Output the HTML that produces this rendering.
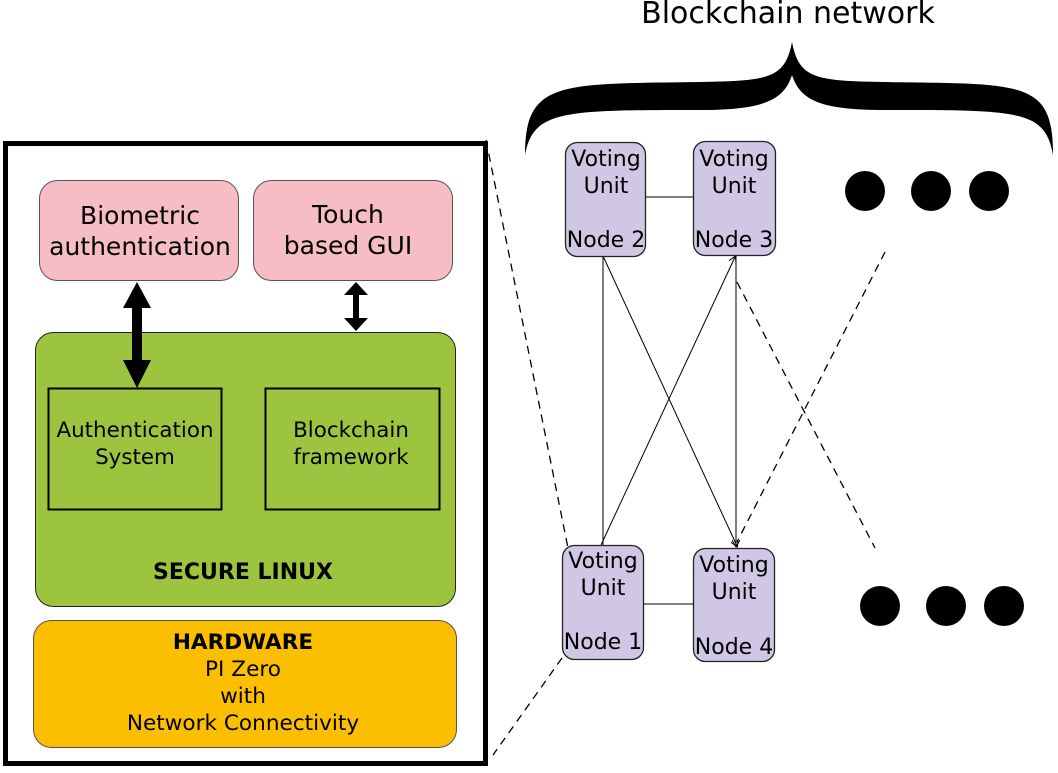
<!DOCTYPE html>
<html><head><style>
body{margin:0;width:1058px;height:768px;background:#fff;overflow:hidden}
svg text{font-family:"DejaVu Sans",sans-serif;fill:#000}
</style></head><body>
<svg width="1058" height="768" viewBox="0 0 1058 768">
<defs>
<marker id="a" markerWidth="8" markerHeight="8" refX="6" refY="4" orient="auto" markerUnits="userSpaceOnUse"><path d="M0,0 L7,4 L0,8" fill="none" stroke="#000" stroke-width="1"/></marker>
</defs>
<text x="788" y="23" font-size="30" text-anchor="middle">Blockchain network</text>
<path d="M525,155 C525,80 560,84 700,82 C770,81 785,78 792,42 C799,78 814,81 884,82 C1024,84 1053,80 1053,155 C1045,110 1020,110 884,110 C820,110 800,100 792,75 C784,100 764,110 700,110 C564,110 533,110 525,155 Z" fill="#000"/>
<rect x="5.5" y="143.5" width="480" height="620" fill="#fff" stroke="#000" stroke-width="5"/>
<rect x="39.5" y="180.5" width="199" height="100" rx="18" fill="#f6bec4" stroke="#555"/>
<rect x="253.5" y="180.5" width="199" height="100" rx="18" fill="#f6bec4" stroke="#555"/>
<text x="140" y="224" font-size="25" text-anchor="middle">Biometric</text>
<text x="140" y="255" font-size="25" text-anchor="middle">authentication</text>
<text x="348" y="223" font-size="25" text-anchor="middle">Touch</text>
<text x="348" y="254" font-size="25" text-anchor="middle">based GUI</text>
<rect x="35.5" y="332.5" width="420" height="274" rx="18" fill="#9dc43e" stroke="#222"/>
<rect x="48.5" y="388.5" width="173" height="121" fill="none" stroke="#000" stroke-width="2"/>
<rect x="265.5" y="388.5" width="174" height="121" fill="none" stroke="#000" stroke-width="2"/>
<text x="135" y="437" font-size="21.4" text-anchor="middle">Authentication</text>
<text x="135" y="464" font-size="21.4" text-anchor="middle">System</text>
<text x="351" y="437" font-size="21.4" text-anchor="middle">Blockchain</text>
<text x="351" y="464" font-size="21.4" text-anchor="middle">framework</text>
<text x="243" y="579" font-size="22" font-weight="bold" text-anchor="middle">SECURE LINUX</text>
<rect x="33.5" y="620.5" width="423" height="127" rx="18" fill="#fbbf00" stroke="#555"/>
<text x="243" y="649" font-size="21.6" font-weight="bold" text-anchor="middle">HARDWARE</text>
<text x="243" y="676" font-size="21.6" text-anchor="middle">PI Zero</text>
<text x="243" y="703" font-size="21.6" text-anchor="middle">with</text>
<text x="243" y="730" font-size="21.6" text-anchor="middle">Network Connectivity</text>
<path d="M137,282 L151,308 L142,308 L142,360 L151,360 L137,388 L123,360 L132,360 L132,308 L123,308 Z" fill="#000"/>
<path d="M356,282 L368,295 L359,295 L359,318 L368,318 L356,331 L344,318 L353,318 L353,295 L344,295 Z" fill="#000"/>
<g stroke="#000" stroke-width="1.3" stroke-dasharray="8,6" fill="none">
<line x1="486" y1="140" x2="568" y2="548"/>
<line x1="562" y1="658" x2="493" y2="755"/>
<line x1="737" y1="282" x2="875" y2="548"/>
<line x1="885" y1="252" x2="737" y2="542"/>
</g>
<g stroke="#000" stroke-width="1" fill="none">
<line x1="645" y1="197" x2="693" y2="197"/>
<line x1="643" y1="604" x2="693" y2="604"/>
<line x1="603" y1="256" x2="603" y2="545"/>
<line x1="603" y1="256" x2="737" y2="546" marker-end="url(#a)"/>
<line x1="736" y1="255" x2="736" y2="546" marker-end="url(#a)"/>
<line x1="601" y1="545" x2="735" y2="257" marker-end="url(#a)"/>
</g>
<g fill="#cfc7e3" stroke="#222" stroke-width="1.3">
<rect x="565.5" y="142.5" width="80" height="114" rx="12"/>
<rect x="693.5" y="141.5" width="82" height="114" rx="12"/>
<rect x="562.5" y="545.5" width="81" height="114" rx="12"/>
<rect x="693.5" y="548.5" width="81" height="113" rx="12"/>
</g>
<g font-size="22" text-anchor="middle">
<text x="606" y="166">Voting</text><text x="606" y="193">Unit</text><text x="606" y="247">Node 2</text>
<text x="734" y="166">Voting</text><text x="734" y="193">Unit</text><text x="734" y="247">Node 3</text>
<text x="603" y="568">Voting</text><text x="603" y="595">Unit</text><text x="603" y="649">Node 1</text>
<text x="734" y="572">Voting</text><text x="734" y="599">Unit</text><text x="734" y="654">Node 4</text>
</g>
<g fill="#000">
<circle cx="865" cy="191" r="20"/><circle cx="931" cy="191" r="20"/><circle cx="989" cy="191" r="20"/>
<circle cx="880" cy="606" r="20"/><circle cx="946" cy="606" r="20"/><circle cx="1004" cy="606" r="20"/>
</g>
</svg>
</body></html>
